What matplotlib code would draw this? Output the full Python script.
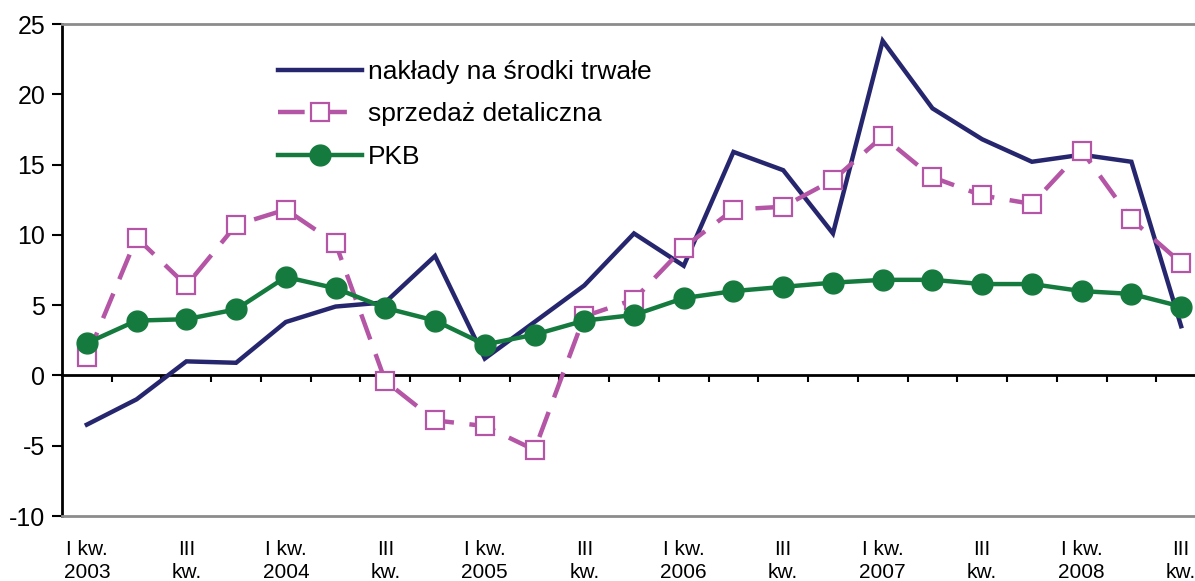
import numpy as np
import matplotlib
matplotlib.use("Agg")
import matplotlib.pyplot as plt

plt.rcParams['font.family'] = ['Liberation Sans', 'DejaVu Sans']
plt.rcParams['axes.unicode_minus'] = False

years = ['2003', '2004', '2005', '2006', '2007', '2008']
n_quarters = 23

naklady = [-3.5, -1.7, 1.0, 0.9, 3.8, 4.9, 5.2, 8.5, 1.2, 3.8, 6.4, 10.1,
           7.8, 15.9, 14.6, 10.1, 23.8, 19.0, 16.8, 15.2, 15.7, 15.2, 3.5]
sprzedaz = [1.3, 9.8, 6.4, 10.7, 11.8, 9.4, -0.4, -3.2, -3.6, -5.3, 4.2, 5.4,
            9.1, 11.8, 12.0, 13.9, 17.0, 14.1, 12.8, 12.2, 16.0, 11.1, 8.0]
pkb = [2.3, 3.9, 4.0, 4.7, 7.0, 6.2, 4.8, 3.9, 2.2, 2.9, 3.9, 4.3,
       5.5, 6.0, 6.3, 6.6, 6.8, 6.8, 6.5, 6.5, 6.0, 5.8, 4.9]

tick_labels = []
for y in years:
    tick_labels.append('I kw.\n' + y)
    tick_labels.append('III\nkw.')

navy = '#26266f'
pink = '#b455a5'
green = '#157a3d'

fig = plt.figure(figsize=(11.95, 5.81), dpi=100)
ax = fig.add_axes([62 / 1195, 65 / 581, 1144 / 1195, 492 / 581])

x = np.arange(n_quarters)
ax.plot(x, naklady, color=navy, lw=3.2, label='nakłady na środki trwałe', zorder=3,
        solid_joinstyle='miter')
ax.plot(x, sprzedaz, color=pink, lw=3.2, dashes=(6, 3.5), marker='s', ms=13,
        mfc='white', mec=pink, mew=1.6, label='sprzedaż detaliczna', zorder=4)
ax.plot(x, pkb, color=green, lw=3.2, marker='o', ms=15, mfc=green, mec=green,
        label='PKB', zorder=5)

ax.set_xlim(-0.5, n_quarters - 0.5)
ax.set_ylim(-10, 25)
ax.set_yticks(np.arange(-10, 26, 5))
ax.tick_params(axis='y', direction='out', length=7, width=1.5, pad=5, labelsize=18)

ax.set_xticks(x[::2])
ax.set_xticklabels(tick_labels[:len(x[::2])], linespacing=1.3)
ax.tick_params(axis='x', length=0, pad=17, labelsize=15)

ax.spines['right'].set_visible(False)
ax.spines['left'].set_linewidth(2)
ax.spines['top'].set_color('#8c8c8c')
ax.spines['top'].set_linewidth(2)
ax.spines['bottom'].set_color('#8c8c8c')
ax.spines['bottom'].set_linewidth(2)

# zero line with category-boundary ticks
secax = ax.secondary_xaxis(10 / 35)
secax.set_xticks(np.arange(0.5, n_quarters - 0.5, 1))
secax.tick_params(direction='out', length=5, width=1.5, labelbottom=False)
secax.spines['bottom'].set_linewidth(2)

leg = ax.legend(loc='upper left', bbox_to_anchor=(278 / 1195, 1 - 60 / 581),
                bbox_transform=fig.transFigure, frameon=False, fontsize=19,
                handlelength=3.2, handletextpad=0.2, labelspacing=0.7,
                borderpad=0, borderaxespad=0)

fig.savefig('out.png', dpi=100)
